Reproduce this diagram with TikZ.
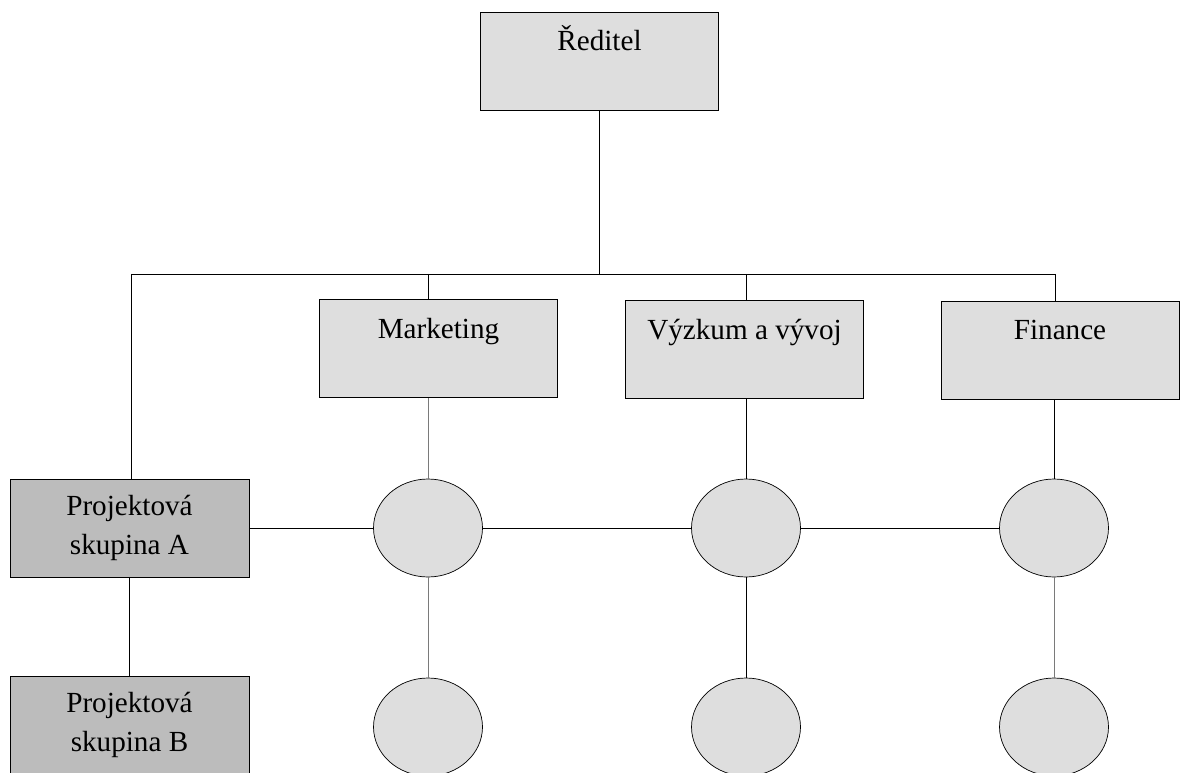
\documentclass[tikz,border=0pt]{standalone}
\usepackage{fontspec}
\setmainfont{Liberation Serif}
\usepackage{tikz}
\usetikzlibrary{shapes.geometric,calc,positioning}
\definecolor{lightbox}{HTML}{DEDEDE}
\definecolor{darkbox}{HTML}{BCBCBC}
\definecolor{greyline}{HTML}{7A7A7A}
\tikzset{
    auto,line width=1.3pt,draw=black!85,
    dept/.style ={rectangle, draw, fill=lightbox, inner sep=0pt, minimum width=4.76cm,
        text height=0.77cm, text depth=1.19cm, font=\rmfamily\fontsize{16.6}{20}\selectfont},
    proj/.style ={rectangle, draw, fill=darkbox, inner sep=0pt, minimum width=4.78cm,
        minimum height=1.96cm, align=center, font=\rmfamily\fontsize{16.6}{22.6}\selectfont},
    unit/.style ={ellipse, draw, fill=lightbox, minimum width=2.18cm, minimum height=1.96cm},
    grey/.style = {draw=greyline}
}
\begin{document}
\begin{tikzpicture}[x=0.02cm,y=-0.02cm]
    \useasboundingbox (0,0) rectangle (1182,773);
    \node[dept] (dir) at (599.5, 61) {Ředitel};
    \node[dept] (mkt) at (438.5, 348.5) {Marketing};
    \node[dept] (vyv) at (744.5, 349.5) {Výzkum a vývoj};
    \node[dept] (fin) at (1060, 350) {Finance};
    \node[proj] (pa) at (129.5, 528) {Projektová\\skupina A};
    \node[proj] (pb) at (129.5, 725) {Projektová\\skupina B};
    \node[unit] (m1) at (428, 528) {};
    \node[unit] (v1) at (746, 528) {};
    \node[unit] (f1) at (1054, 528) {};
    \node[unit] (m2) at (428, 727) {};
    \node[unit] (v2) at (746, 727) {};
    \node[unit] (f2) at (1054, 727) {};
    \coordinate (busL) at (131, 274);
    \coordinate (busR) at (1055, 274);

    % top of the chart
    \draw (dir.south) -- (dir.south |- busL);
    \draw (busL) -- (busR);
    \draw (busL) -- (busL |- pa.north);
    \draw (m1 |- busL) -- (m1 |- mkt.north);
    \draw (v1 |- busL) -- (v1 |- vyv.north);
    \draw (busR) -- (busR |- fin.north);

    % columns
    \draw[grey] (m1 |- mkt.south) -- (m1.north);
    \draw (v1 |- vyv.south) -- (v1.north);
    \draw (f1 |- fin.south) -- (f1.north);
    \draw[grey] (m1.south) -- (m2.north);
    \draw (v1.south) -- (v2.north);
    \draw[grey] (f1.south) -- (f2.north);

    % project rows
    \draw (pa.east) -- (m1.west);
    \draw (m1.east) -- (v1.west);
    \draw (v1.east) -- (f1.west);
    \draw (pa.south) -- (pb.north);
\end{tikzpicture}
\end{document}
